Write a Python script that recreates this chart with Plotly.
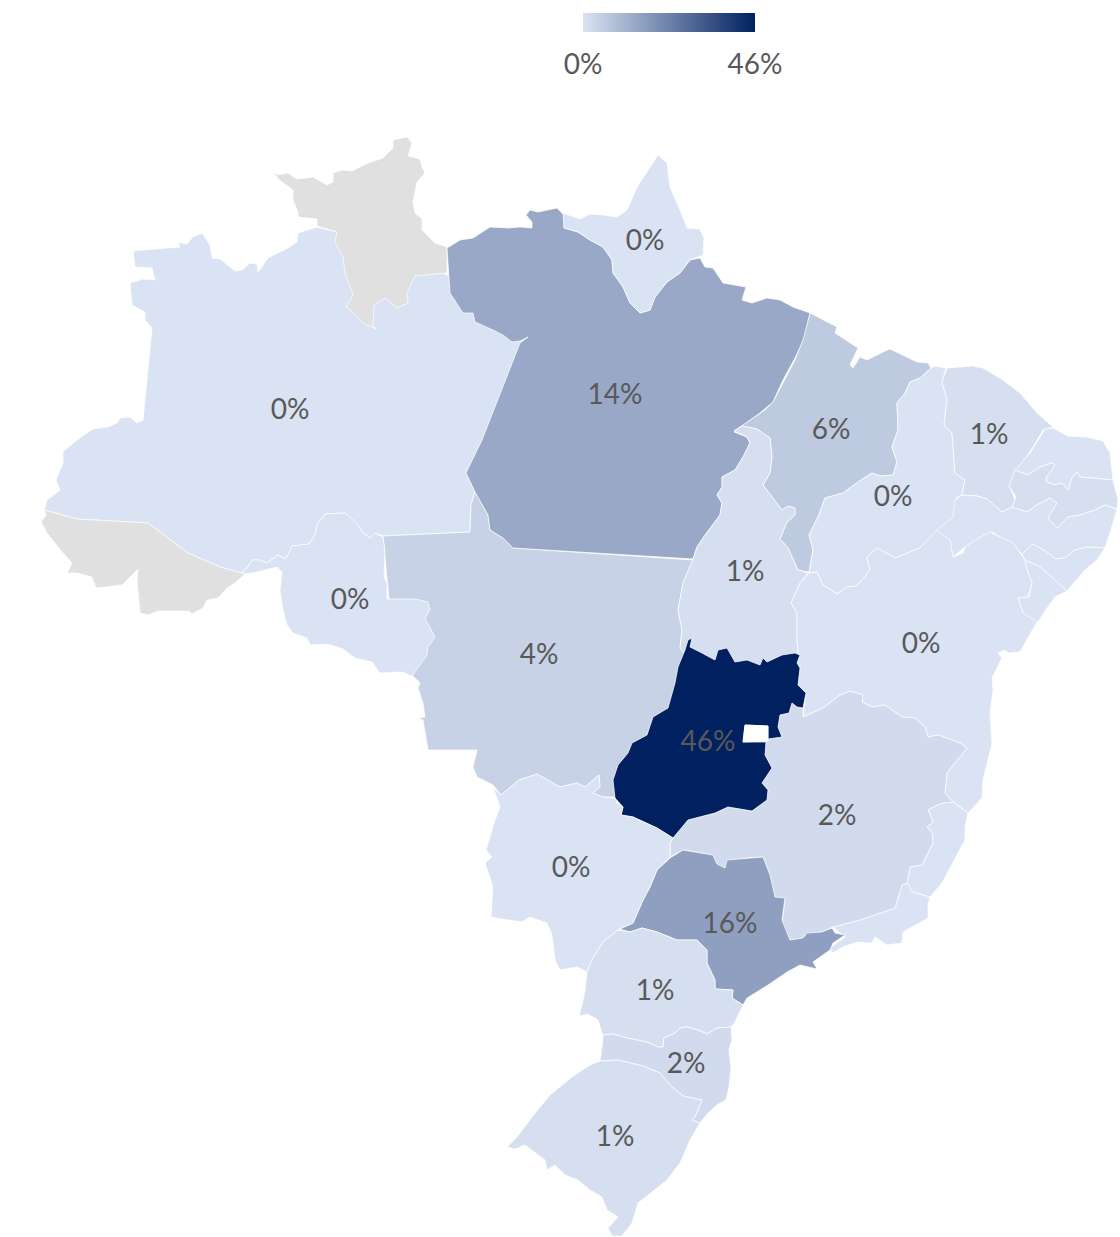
import plotly.graph_objects as go
from plotly.colors import sample_colorscale

# Outlines are in map units.
AM = [(133,251),(180,247),(178,242),(187,244),(193,237),(202,233),(210,245),(212,258),(220,259),(235,271),(242,270),(250,263),(257,264),(258,272),(268,258),(278,253),(288,248),(297,242),(298,233),(317,227),(337,232),(400,250),(447,275),(528,338),(478,450),(466,473),(475,492),(471,505),(470,532),(383,536),(375,533),(370,538),(362,532),(358,525),(350,517),(345,513),(325,514),(317,525),(315,535),(309,544),(292,546),(288,555),(285,559),(278,555),(272,559),(267,563),(260,560),(252,560),(248,567),(241,573),(220,567),(188,553),(148,523),(77,519),(44,510),(47,500),(60,490),(56,480),(63,463),(63,452),(77,440),(88,432),(93,429),(108,427),(117,423),(120,418),(130,417),(137,423),(143,420),(152,328),(145,320),(145,312),(132,305),(130,283),(143,279),(155,280),(152,268),(135,267)]
MT = [(383,536),(470,532),(471,505),(475,492),(488,515),(490,530),(503,538),(513,548),(693,560),(683,583),(678,610),(682,630),(680,648),(700,665),(670,740),(640,790),(617,797),(603,797),(593,793),(600,787),(599,775),(585,787),(577,783),(560,787),(537,774),(519,780),(501,795),(493,785),(477,777),(473,767),(477,750),(428,750),(423,720),(418,718),(425,717),(423,703),(418,688),(420,683),(412,675),(400,640),(390,610)]
RO = [(241,573),(248,567),(252,560),(260,560),(267,563),(272,559),(278,555),(285,559),(288,555),(292,546),(309,544),(315,535),(317,525),(325,514),(345,513),(350,517),(358,525),(362,532),(370,538),(375,533),(383,537),(385,552),(384,577),(387,583),(387,599),(415,599),(428,602),(430,610),(425,618),(435,637),(428,647),(427,655),(418,668),(412,676),(402,672),(380,673),(372,662),(355,658),(343,649),(327,644),(310,645),(307,638),(293,633),(287,625),(283,610),(280,590),(282,572),(277,567),(257,572),(245,574)]
AC = [(44,510),(77,519),(148,523),(188,553),(220,567),(245,574),(235,583),(227,588),(218,598),(207,600),(203,608),(192,614),(189,611),(158,611),(148,615),(140,613),(137,580),(138,569),(122,585),(96,588),(92,577),(77,573),(67,573),(72,563),(63,553),(55,543),(47,533),(41,522),(46,515)]
RR = [(273,171),(278,175),(288,173),(297,179),(313,177),(327,185),(333,182),(333,173),(342,170),(352,171),(368,163),(383,158),(393,148),(393,140),(407,137),(412,143),(408,156),(420,159),(422,167),(425,173),(417,182),(413,202),(415,213),(422,219),(422,230),(435,243),(447,247),(447,273),(415,276),(407,293),(408,303),(397,308),(385,298),(374,305),(373,325),(376,329),(363,323),(353,312),(346,307),(353,295),(345,273),(343,257),(335,242),(337,232),(323,228),(317,226),(317,219),(298,217),(298,212),(293,200),(293,190),(278,179)]
PA = [(447,248),(460,240),(473,238),(490,227),(508,228),(520,227),(532,228),(532,222),(526,215),(530,210),(538,212),(557,208),(564,215),(564,228),(578,232),(590,240),(603,247),(612,260),(613,273),(623,287),(630,303),(640,313),(650,310),(655,297),(667,282),(680,273),(690,260),(700,258),(705,267),(713,268),(723,283),(746,287),(742,300),(752,303),(767,298),(780,300),(793,307),(810,313),(805,337),(795,358),(783,380),(773,402),(760,413),(734,432),(747,437),(750,443),(743,457),(735,470),(722,477),(722,487),(717,495),(722,503),(720,515),(705,535),(697,547),(693,559),(513,548),(503,538),(490,530),(488,515),(475,492),(466,473),(482,440),(520,343),(528,337),(520,341),(512,342),(503,335),(493,330),(475,322),(473,313),(463,313),(450,293)]
AP = [(563,213),(580,219),(590,214),(603,215),(617,217),(627,210),(637,187),(647,172),(658,155),(667,163),(670,187),(680,210),(687,228),(700,229),(704,238),(703,255),(690,260),(680,273),(667,282),(655,297),(650,310),(640,313),(630,303),(623,287),(613,273),(612,260),(603,247),(590,240),(578,232),(564,228)]
MA = [(810,313),(823,320),(837,327),(835,333),(853,345),(858,348),(850,365),(853,368),(860,357),(867,360),(883,352),(890,349),(917,362),(928,363),(931,368),(920,378),(910,382),(905,393),(897,403),(898,430),(892,447),(897,462),(893,475),(880,476),(872,473),(858,482),(843,493),(825,498),(818,517),(809,535),(813,550),(809,572),(798,570),(792,557),(788,548),(780,539),(787,522),(795,515),(795,508),(788,506),(782,510),(763,485),(770,473),(772,457),(770,438),(757,429),(742,426),(734,431),(765,410),(773,402),(783,383),(795,360),(803,340)]
TO = [(734,431),(742,426),(757,429),(770,438),(772,457),(770,473),(763,485),(782,510),(788,506),(795,508),(795,515),(787,522),(780,539),(788,548),(792,557),(798,570),(808,573),(800,583),(791,603),(797,613),(797,640),(798,653),(780,680),(700,680),(680,648),(682,630),(678,610),(683,583),(693,559),(697,547),(705,535),(720,515),(722,503),(717,495),(722,487),(722,477),(735,470),(743,457),(750,443),(747,437)]
PI = [(931,368),(935,366),(946,368),(942,382),(947,400),(944,425),(952,433),(955,473),(965,480),(962,495),(956,498),(960,510),(953,520),(937,533),(920,548),(895,558),(877,548),(867,557),(870,570),(857,586),(847,587),(837,594),(823,585),(817,572),(809,573),(813,550),(809,535),(818,517),(825,498),(843,493),(858,482),(872,473),(880,476),(893,475),(897,462),(892,447),(898,430),(897,403),(905,393),(910,382),(920,378)]
CE = [(947,368),(973,366),(983,368),(1003,380),(1020,393),(1037,413),(1053,427),(1043,430),(1033,447),(1017,470),(1010,487),(1015,500),(1012,507),(1002,512),(987,499),(977,496),(962,495),(965,480),(955,473),(952,433),(944,425),(947,400),(942,382)]
RN = [(1053,428),(1068,436),(1087,437),(1103,441),(1110,453),(1113,480),(1093,478),(1080,477),(1077,472),(1072,478),(1068,490),(1062,483),(1055,485),(1047,482),(1046,478),(1055,465),(1052,463),(1040,467),(1028,475),(1015,470),(1030,453),(1045,429)]
PB = [(1015,470),(1028,475),(1040,467),(1052,463),(1055,465),(1046,478),(1047,482),(1055,485),(1062,483),(1068,490),(1072,478),(1077,472),(1080,477),(1093,478),(1113,480),(1118,500),(1117,509),(1105,505),(1095,510),(1080,515),(1068,517),(1057,528),(1048,518),(1057,503),(1050,498),(1037,505),(1027,512),(1012,507),(1016,497),(1009,486)]
PE = [(962,495),(977,496),(987,499),(1002,512),(1012,507),(1027,512),(1037,505),(1050,498),(1057,503),(1048,518),(1057,528),(1068,517),(1080,515),(1095,510),(1105,505),(1117,509),(1110,533),(1105,548),(1087,547),(1075,550),(1065,558),(1055,559),(1047,552),(1033,544),(1022,554),(1012,545),(992,532),(977,540),(965,547),(953,557),(950,543),(937,530),(953,517),(955,500)]
AL = [(1022,554),(1033,544),(1047,552),(1055,559),(1065,558),(1075,550),(1087,547),(1105,548),(1097,560),(1085,570),(1067,591),(1055,580),(1040,567),(1025,560)]
SE = [(1025,560),(1040,567),(1055,580),(1067,591),(1055,597),(1047,608),(1038,622),(1028,620),(1023,613),(1018,598),(1029,597),(1032,583),(1026,567)]
BA = [(809,573),(817,572),(823,585),(837,594),(847,587),(857,586),(870,570),(867,557),(877,548),(895,558),(920,548),(937,530),(950,540),(953,557),(963,553),(965,547),(975,540),(990,532),(1013,543),(1020,553),(1025,560),(1027,570),(1032,583),(1028,597),(1018,598),(1023,613),(1037,622),(1020,652),(1008,653),(1005,650),(998,653),(1002,658),(992,678),(993,690),(990,713),(992,743),(983,780),(982,798),(968,813),(953,802),(945,793),(947,773),(955,763),(967,748),(960,743),(938,735),(928,737),(925,727),(915,718),(902,717),(885,705),(872,707),(862,702),(863,695),(850,691),(840,695),(823,708),(803,717),(806,693),(798,685),(800,668),(797,663),(800,655),(798,653),(797,640),(797,613),(791,603),(800,583)]
ES = [(953,802),(968,813),(965,827),(965,840),(958,853),(950,868),(942,883),(930,897),(912,892),(907,883),(910,867),(922,865),(933,843),(932,833),(927,827),(933,822),(928,810),(937,805),(943,803)]
RJ = [(908,883),(912,892),(930,897),(928,905),(928,918),(903,932),(902,943),(887,945),(875,937),(872,943),(858,942),(845,946),(832,953),(830,948),(845,937),(833,927),(860,920),(895,908),(902,885)]
MG = [(803,717),(823,708),(840,695),(850,691),(863,695),(862,702),(872,707),(885,705),(902,717),(915,718),(925,727),(928,737),(938,735),(960,743),(967,748),(955,763),(947,773),(945,793),(953,802),(943,803),(937,805),(928,810),(933,822),(927,827),(932,833),(933,843),(922,865),(910,867),(907,883),(902,885),(895,908),(860,920),(833,927),(820,933),(805,935),(802,940),(790,940),(782,923),(785,900),(773,897),(770,877),(763,857),(747,858),(727,862),(725,868),(717,865),(713,855),(683,850),(670,857),(670,843),(673,838),(688,820),(715,813),(728,807),(752,811),(767,800),(768,790),(762,783),(772,768),(765,755),(740,730),(782,737),(778,727),(780,715),(789,713),(792,703),(797,707),(803,708)]
GO = [(692,638),(690,647),(700,652),(715,660),(718,650),(727,648),(735,662),(747,660),(760,665),(763,658),(767,662),(782,655),(795,653),(800,655),(797,663),(800,668),(798,685),(806,693),(803,708),(797,707),(792,703),(789,713),(780,715),(778,727),(782,737),(768,739),(768,726),(745,725),(743,742),(766,742),(765,755),(772,768),(762,783),(768,790),(767,800),(752,811),(728,807),(715,813),(688,820),(673,838),(657,828),(633,817),(621,815),(623,807),(615,798),(613,780),(618,765),(628,753),(632,743),(647,735),(653,717),(668,708),(675,683),(678,667),(685,650),(688,640)]
DF = [(745,725),(768,726),(768,741),(743,742)]
SP = [(683,850),(713,855),(717,864),(725,868),(727,860),(763,857),(770,875),(775,897),(785,898),(782,920),(790,940),(803,938),(807,933),(822,932),(832,928),(835,933),(845,935),(833,943),(830,950),(813,962),(817,969),(800,965),(787,972),(768,985),(747,998),(743,1005),(732,998),(733,990),(715,989),(715,980),(707,963),(707,950),(697,940),(677,940),(657,932),(642,928),(630,932),(619,929),(633,923),(643,900),(650,887),(657,870),(670,858)]
MS = [(501,795),(519,780),(537,774),(560,787),(577,783),(585,787),(599,775),(600,787),(593,793),(603,797),(615,798),(617,803),(623,807),(621,815),(633,817),(657,828),(673,838),(670,843),(670,857),(657,870),(650,887),(643,900),(633,923),(618,930),(603,942),(592,960),(587,972),(577,967),(560,970),(555,960),(552,935),(547,923),(530,917),(522,922),(502,919),(491,917),(493,887),(485,863),(492,857),(486,850),(495,820),(500,807),(493,787)]
PR = [(618,930),(630,932),(642,928),(657,932),(677,940),(697,940),(707,950),(707,963),(715,980),(715,989),(733,990),(732,998),(743,1005),(735,1022),(731,1027),(717,1028),(707,1034),(698,1030),(687,1027),(680,1028),(675,1033),(664,1038),(663,1047),(658,1047),(647,1042),(627,1038),(613,1034),(603,1035),(602,1033),(598,1020),(588,1014),(579,1016),(582,1005),(585,990),(587,972),(592,960),(603,942)]
SC = [(603,1035),(613,1034),(627,1038),(647,1042),(658,1047),(663,1047),(664,1038),(675,1033),(680,1028),(687,1027),(698,1030),(707,1034),(717,1028),(731,1027),(732,1040),(729,1050),(731,1068),(729,1087),(726,1100),(717,1105),(708,1113),(700,1123),(692,1120),(695,1117),(698,1110),(702,1100),(683,1096),(672,1087),(660,1073),(643,1066),(618,1060),(600,1061),(602,1047)]
RS = [(600,1061),(618,1060),(643,1066),(660,1073),(672,1087),(683,1096),(702,1100),(698,1110),(695,1117),(692,1120),(700,1123),(690,1140),(680,1163),(667,1180),(650,1193),(638,1203),(632,1223),(622,1236),(612,1236),(608,1228),(618,1217),(607,1210),(602,1197),(590,1190),(578,1180),(565,1175),(555,1165),(547,1170),(545,1160),(525,1145),(515,1149),(507,1147),(517,1137),(532,1117),(550,1095),(572,1077),(590,1065)]

STATES = ["AM","MT","RO","AC","RR","PA","AP","MA","TO","PI","CE","RN","PB","PE","AL","SE","BA","ES","RJ","MG","GO","DF","SP","MS","PR","SC","RS"]
VALUES = [0,4,0,None,None,14,0,6,1,0,1,0,1,0,0,0,0,0,0,2,46,None,16,0,1,2,1]
OUTLINES = [AM,MT,RO,AC,RR,PA,AP,MA,TO,PI,CE,RN,PB,PE,AL,SE,BA,ES,RJ,MG,GO,DF,SP,MS,PR,SC,RS]

LABELLED = ["AM","PA","AP","MA","CE","PI","TO","BA","MT","RO","GO","MG","MS","SP","PR","SC","RS"]
LABEL_X = [290,615,645,831,989,893,745,921,539,350,708,837,571,730,655,686,615]
LABEL_Y = [412,397,243,432,437,499,574,646,657,602,744,818,870,926,993,1066,1139]

VMIN, VMAX = 0, 46
COLORSCALE = [[0, "#DAE3F3"], [1, "#002060"]]
NO_DATA = {"AC": "#E0E0E0", "RR": "#E0E0E0", "DF": "#FFFFFF"}
FONT = dict(family="Lato, Open Sans, sans-serif", size=28, color="#595959")

fig = go.Figure()
for name, outline, value in zip(STATES, OUTLINES, VALUES):
    color = NO_DATA[name] if value is None else sample_colorscale(COLORSCALE, (value - VMIN) / (VMAX - VMIN))[0]
    pts = list(outline) + [outline[0]]
    fig.add_trace(go.Scatter(
        x=[p[0] for p in pts], y=[p[1] for p in pts], mode="lines", fill="toself",
        fillcolor=color, line=dict(color="rgba(255,255,255,0.8)", width=0.9),
        name=name, hoverinfo="name", showlegend=False))

label_values = [VALUES[STATES.index(s)] for s in LABELLED]
fig.add_trace(go.Scatter(
    x=LABEL_X, y=LABEL_Y, mode="markers+text",
    text=[f"{v}%" for v in label_values], textposition="middle center", textfont=FONT,
    hoverinfo="skip", showlegend=False,
    marker=dict(size=1, opacity=0, color=label_values, colorscale=COLORSCALE, cmin=VMIN, cmax=VMAX,
                showscale=True,
                colorbar=dict(orientation="h", x=583/1120, xanchor="left", y=1-13/1237, yanchor="top",
                              lenmode="pixels", len=172, thicknessmode="pixels", thickness=19,
                              outlinewidth=0, tickvals=[VMIN, VMAX],
                              ticktext=[f"{VMIN}%", f"{VMAX}%"], tickfont=FONT,
                              ticks="outside", ticklen=9, tickcolor="rgba(0,0,0,0)", xpad=0, ypad=0))))

fig.update_layout(
    width=1120, height=1237, margin=dict(l=0, r=0, t=0, b=0, autoexpand=False),
    paper_bgcolor="white", plot_bgcolor="white", showlegend=False,
    xaxis=dict(range=[0, 1120], visible=False, fixedrange=True),
    yaxis=dict(range=[1237, 0], visible=False, fixedrange=True),
)
fig.write_html("out.html", config=dict(displayModeBar=False),
               post_script="document.body.style.margin='0';document.documentElement.style.overflow='hidden';")
